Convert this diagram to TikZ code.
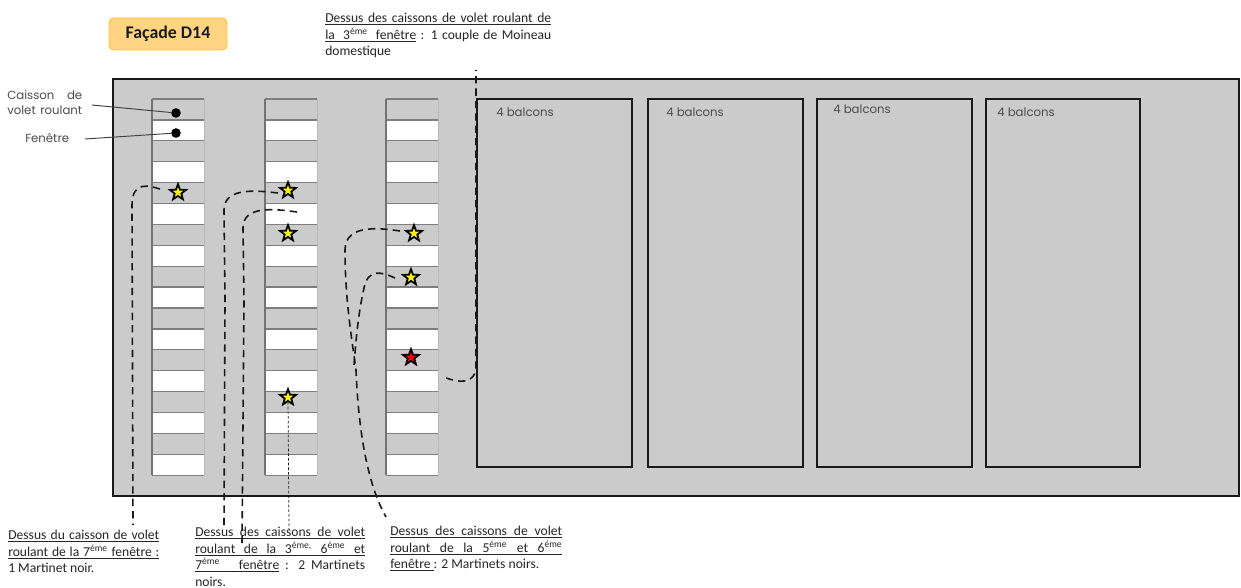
\documentclass[tikz,border=0pt]{standalone}
\usepackage{fontspec}
\usetikzlibrary{shapes.geometric,calc}
\setmainfont{Carlito}
\newfontfamily\gothic{Poppins}
\definecolor{facade}{HTML}{CBCBCB}
\definecolor{rowline}{HTML}{7E7E7E}
\definecolor{titlefill}{HTML}{FFD583}
\definecolor{titleline}{HTML}{FFC233}
\newlength{\pxu}\setlength{\pxu}{0.75pt}
\newcommand{\jl}[2]{\makebox[#1\pxu][s]{#2}}
\newcommand{\ul}[2]{\underline{\makebox[#1\pxu][s]{#2}}}
\newcommand{\sq}[1]{\textsuperscript{#1}}
\tikzset{
  x=0.75pt,y=-0.75pt,
  note/.style={anchor=north west,inner sep=0pt,align=left,font=\fontsize{10.2}{12.4}\selectfont,text=black!85},
  gothiclabel/.style={inner sep=0pt,font=\gothic\fontsize{8.8}{10.5}\selectfont,text=black!70},
  bird/.style={star,star points=5,star point ratio=2.4,draw=black,line width=1.35pt,inner sep=0pt,minimum size=12.5pt},
  birdy/.style={bird,fill=yellow},
  birdr/.style={bird,fill=red},
  bigrect/.style={draw=black!90,line width=1.1pt},
  marker/.style={circle,fill=black,inner sep=0pt,minimum size=7.2pt},
  leader/.style={draw=black!75,line width=0.7pt},
  track/.style={draw=black!90,line width=1.2pt,dash pattern=on 5.5pt off 3.8pt},
  thintrack/.style={draw=black!90,line width=0.55pt,dash pattern=on 2pt off 1.5pt},
}
\newcommand{\stack}[1]{%
  \fill[white] (#1,99) rectangle ++(52,376);
  \foreach \r in {0,...,8}{
    \fill[facade] ($(#1,99)+(0,\r*41.8)$) rectangle ++(52,20.9);
  }
  \foreach \r in {0,...,18}{
    \draw[rowline,line width=1pt] ($(#1,99)+(0,\r*20.9)$) -- ++(52,0);
  }
  \draw[black!55,line width=1.4pt] (#1,99) -- ++(0,376);
  \draw[black!28,line width=0.6pt] (#1+52,99) -- ++(0,376);
}
\begin{document}
\begin{tikzpicture}
\useasboundingbox (0,0) rectangle (1241,588);
\fill[white] (0,0) rectangle (1241,588);
% facade
\draw[bigrect,fill=facade] (113,79) rectangle (1239,496);
\stack{152}\stack{265}\stack{386}
% balconies
\draw[bigrect] (477,99) rectangle (632,467);
\draw[bigrect] (648,99) rectangle (803,467);
\draw[bigrect] (817,99) rectangle (972,467);
\draw[bigrect] (986,99) rectangle (1140,467);
\node[gothiclabel,anchor=west] (b1) at (496,112.5) {4 balcons};
\node[gothiclabel,anchor=west] (b2) at (666,112.5) {4 balcons};
\node[gothiclabel,anchor=west] (b3) at (833,109.5) {4 balcons};
\node[gothiclabel,anchor=west] (b4) at (997,112.5) {4 balcons};
% title
\node[draw=titleline,line width=0.7pt,rounded corners=3.5pt,fill=titlefill,
  minimum width=88.5pt,minimum height=24pt,inner sep=0pt,font=\bfseries\fontsize{13.4}{15}\selectfont,text=black!90] (title) at (168,34) {Façade D14};
% key labels
\node[gothiclabel,anchor=north west,align=left] (kc) at (7,90.5) {\makebox[75\pxu][s]{Caisson de}\\[0.4pt]\makebox[75\pxu][s]{volet roulant}};
\node[gothiclabel,anchor=west] (kf) at (25,138) {Fenêtre};
\node[marker] (mc) at (176,113) {};
\node[marker] (mf) at (176,133) {};
\coordinate (kcend) at (92,105);
\coordinate (kfend) at (85,139);
\draw[leader] (kcend) -- (mc);
\draw[leader] (kfend) -- (mf);
% stars
\node[birdy] (s1) at (178,192.5) {};
\node[birdy] (s2) at (288,190.5) {};
\node[birdy] (s3) at (288,233.5) {};
\node[birdy] (s4) at (414,233.5) {};
\node[birdy] (s5) at (411,277.5) {};
\node[birdr] (s6) at (411,357.5) {};
\node[birdy] (s7) at (288,397.5) {};
% notes
\node[note] (n0) at (325,13) {\ul{226}{Dessus des caissons de volet roulant de}\\
  \jl{226}{\ul{91}{la 3\sq{éme} fenêtre} : 1 couple de Moineau}\\
  domestique};
\node[note] (n1) at (8,530) {\ul{151}{Dessus du caisson de volet}\\
  \ul{151}{roulant de la 7\sq{éme} fenêtre :}\\
  1 Martinet noir.};
\node[note] (n2) at (195,527) {\ul{170}{Dessus des caissons de volet}\\
  \ul{170}{roulant de la 3\sq{éme,} 6\sq{éme} et}\\
  \jl{170}{\ul{84}{7\sq{éme} fenêtre} : 2 Martinets}\\
  noirs.};
\node[note] (n3) at (390,526) {\ul{172}{Dessus des caissons de volet}\\
  \ul{172}{roulant de la 5\sq{éme} et 6\sq{éme}}\\
  \underline{fenêtre }: 2 Martinets noirs.};
% track ends
\coordinate (t1a) at (160,189);  \coordinate (t1b) at (133,525);
\coordinate (t2a) at (278,193);  \coordinate (t2b) at (224,527);
\coordinate (t3a) at (297,212);  \coordinate (t3b) at (242,545);
\coordinate (t4a) at (400,231);  \coordinate (t4b) at (386,517);
\coordinate (t5a) at (395,278);  \coordinate (t5b) at (354,365);
\coordinate (t6a) at (446,378);  \coordinate (t6b) at (476,70);
\coordinate (t7b) at (289,530);
% tracks
\draw[track] (t1a) .. controls (150,186) and (132,180) .. (132,205) -- (t1b);
\draw[track] (t2a) .. controls (260,191) and (224,186) .. (224,210) -- (225,300) -- (t2b);
\draw[track] (t3a) .. controls (275,209) and (243,205) .. (243,228) -- (244,300) -- (t3b);
\draw[track] (t4a) .. controls (385,229) and (345,222) .. (345,250) .. controls (345,300) and (352,340) .. (356,370) .. controls (358,420) and (365,480) .. (t4b);
\draw[track] (t5a) .. controls (382,272) and (368,268) .. (364,288) .. controls (358,315) and (356,340) .. (t5b);
\draw[track] (t6a) .. controls (458,382) and (476,386) .. (476,365) -- (t6b);
\draw[thintrack] (s7) -- (t7b);
\end{tikzpicture}
\end{document}
